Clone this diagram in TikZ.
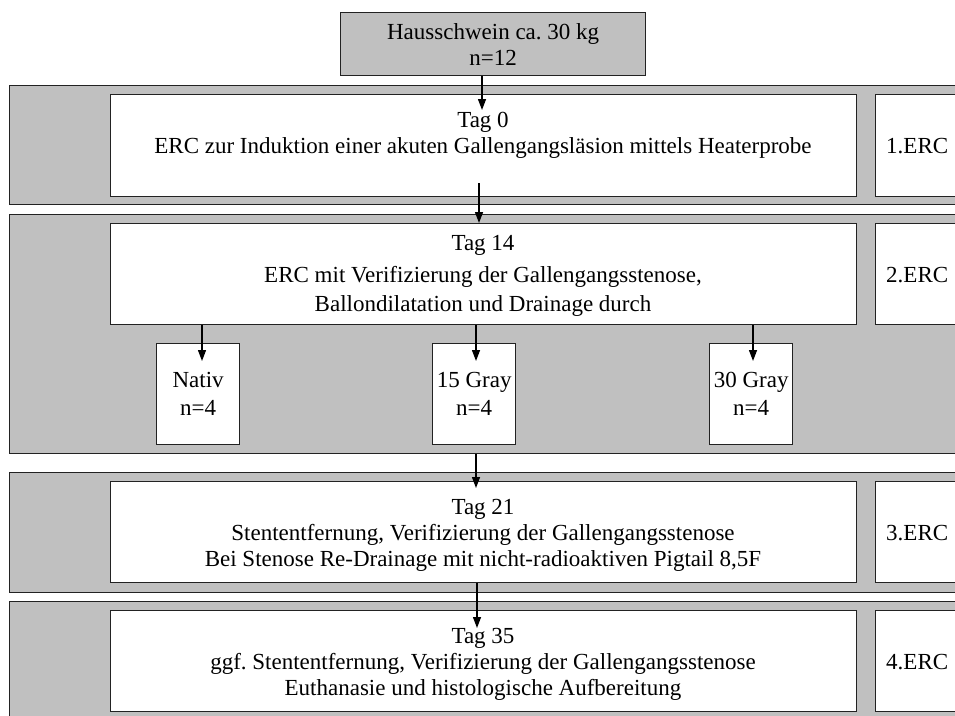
\documentclass[tikz,border=0pt]{standalone}
\usepackage{fontspec}
\setmainfont{Liberation Serif}
\usetikzlibrary{arrows.meta}
\definecolor{bandgray}{HTML}{C0C0C0}
\definecolor{edge}{HTML}{222222}
\frenchspacing
\begin{document}
\begin{tikzpicture}[x=1pt,y=1pt,
  font=\fontsize{23}{26}\selectfont,
  band/.style={draw=edge,line width=1.4pt,fill=bandgray,inner sep=0,anchor=north west},
  wbox/.style={draw=edge,line width=1.3pt,fill=white,inner sep=0,anchor=north west},
  txt/.style={inner sep=0,align=center,anchor=north},
  lbl/.style={inner sep=0,anchor=west},
  arr/.style={line width=1.3pt,draw=black,-{Triangle[width=8pt,length=11pt]}}]
\useasboundingbox (0,0) rectangle (955,-715);
\clip (0,0) rectangle (955,-715);
\fill[white] (0,0) rectangle (955,-715);

% top box
\node[wbox,fill=bandgray,minimum width=305,minimum height=63,align=center] (top) at (340,-12) {Hausschwein ca. 30 kg\\n=12};

% bands
\node[band,minimum width=970,minimum height=119] (b1) at (9,-85) {};
\node[band,minimum width=970,minimum height=239] (b2) at (9,-214) {};
\node[band,minimum width=970,minimum height=120] (b3) at (9,-472) {};
\node[band,minimum width=970,minimum height=130] (b4) at (9,-601) {};

% inner boxes
\node[wbox,minimum width=746,minimum height=102] (in1) at (110,-94) {};
\node[wbox,minimum width=746,minimum height=101] (in2) at (110,-223) {};
\node[wbox,minimum width=746,minimum height=101] (in3) at (110,-481) {};
\node[wbox,minimum width=746,minimum height=101] (in4) at (110,-610) {};

% ERC boxes
\node[wbox,minimum width=100,minimum height=102] (e1) at (875,-94) {};
\node[wbox,minimum width=100,minimum height=101] (e2) at (875,-223) {};
\node[wbox,minimum width=100,minimum height=101] (e3) at (875,-481) {};
\node[wbox,minimum width=100,minimum height=101] (e4) at (875,-610) {};
\node[lbl] (l1) at (886,-146) {1.ERC};
\node[lbl] (l2) at (886,-275) {2.ERC};
\node[lbl] (l3) at (886,-533) {3.ERC};
\node[lbl] (l4) at (886,-662) {4.ERC};

% texts
\node[txt] (t1) at (483,-112) {Tag 0\\ERC zur Induktion einer akuten Gallengangsläsion mittels Heaterprobe};
\node[txt] (t2) at (483,-235) {Tag 14\\[6pt]ERC mit Verifizierung der Gallengangsstenose,\\[3pt]Ballondilatation und Drainage durch};
\node[txt] (t3) at (483,-499) {Tag 21\\Stententfernung, Verifizierung der Gallengangsstenose\\Bei Stenose Re-Drainage mit nicht-radioaktiven Pigtail 8,5F};
\node[txt] (t4) at (483,-628) {Tag 35\\ggf. Stententfernung, Verifizierung der Gallengangsstenose\\Euthanasie und histologische Aufbereitung};

% small boxes
\node[wbox,minimum width=83,minimum height=101,align=center] (g1) at (156,-343) {Nativ\\[2pt]n=4};
\node[wbox,minimum width=83,minimum height=101,align=center] (g2) at (432,-343) {15 Gray\\[2pt]n=4};
\node[wbox,minimum width=83,minimum height=101,align=center] (g3) at (709,-343) {30 Gray\\[2pt]n=4};

% arrows
\coordinate (a0e) at (482,-110);
\draw[arr] (top.south -| a0e) -- (a0e);
\coordinate (a1s) at (479,-183);
\draw[arr] (a1s) -- (a1s |- in2.north);
\coordinate (g1t) at (202,-361);
\coordinate (g2t) at (476,-361);
\coordinate (g3t) at (753,-361);
\draw[arr] (in2.south -| g1t) -- (g1t);
\draw[arr] (in2.south -| g2t) -- (g2t);
\draw[arr] (in2.south -| g3t) -- (g3t);
\coordinate (a3e) at (476,-488);
\draw[arr] (b2.south -| a3e) -- (a3e);
\coordinate (a4e) at (477,-628);
\draw[arr] (in3.south -| a4e) -- (a4e);
\end{tikzpicture}
\end{document}
